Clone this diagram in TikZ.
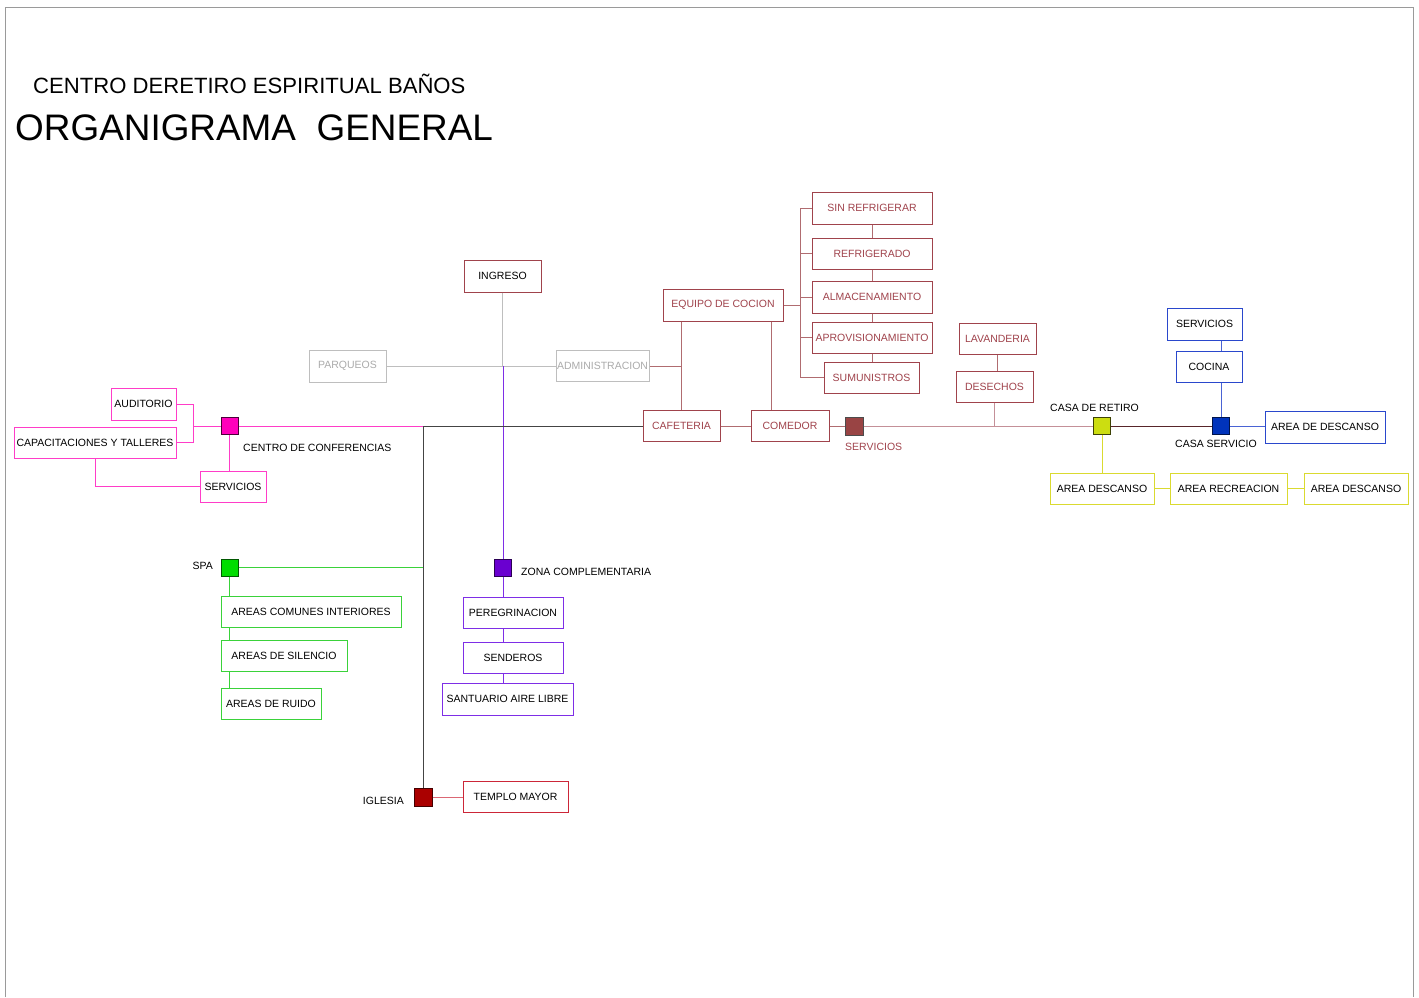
\documentclass[tikz,border=0pt]{standalone}
\usepackage{fontspec}
\setmainfont{Liberation Sans}
\definecolor{Pink}{HTML}{FF3DC8}
\definecolor{PinkHub}{HTML}{FF00BB}
\definecolor{Ash}{HTML}{BEBEBE}
\definecolor{AshText}{HTML}{ABABAB}
\definecolor{Wine}{HTML}{A0434C}
\definecolor{WineLine}{HTML}{B06C70}
\definecolor{Rose}{HTML}{C49098}
\definecolor{WineHub}{HTML}{994444}
\definecolor{Leaf}{HTML}{3AD23A}
\definecolor{LeafHub}{HTML}{00DD00}
\definecolor{Violet}{HTML}{7E2EE6}
\definecolor{VioletHub}{HTML}{6A00D0}
\definecolor{Crimson}{HTML}{CC2638}
\definecolor{CrimsonHub}{HTML}{AA0000}
\definecolor{Lime}{HTML}{DADA30}
\definecolor{LimeHub}{HTML}{CCDD11}
\definecolor{Royal}{HTML}{2A48CC}
\definecolor{RoyalHub}{HTML}{0033BB}
\definecolor{Slate}{HTML}{444444}
\definecolor{Frame}{HTML}{9A9A9A}
\begin{document}
\begin{tikzpicture}[x=1pt, y=-1pt,
  orgbox/.style={draw, line width=1pt, minimum height=31pt, inner sep=0pt,
                 fill=white, font=\fontsize{10.5}{12}\selectfont},
  hubsq/.style={draw, line width=1pt, minimum size=17pt, inner sep=0pt},
  lbl/.style={inner sep=0pt, font=\fontsize{10.5}{12}\selectfont},
  link/.style={line width=1pt}
]
  \useasboundingbox (0,0) rectangle (1419,997);
  \draw[Frame, line width=1pt] (5,997) -- (5,7) -- (1413,7) -- (1413,997);

  \node[anchor=base west, inner sep=0pt, font=\fontsize{22.1}{26}\selectfont] (sub) at (33,93) {CENTRO DERETIRO ESPIRITUAL BAÑOS};
  \node[anchor=base west, inner sep=0pt, font=\fontsize{36.9}{40}\selectfont] (title) at (15,140) {ORGANIGRAMA\ \ GENERAL};

  % centro de conferencias
  \node[orgbox, draw=Pink, minimum width=65pt, minimum height=32pt] (aud) at (143.5,404) {AUDITORIO};
  \node[orgbox, draw=Pink, minimum width=162pt] (cap) at (95,442.5) {CAPACITACIONES Y TALLERES};
  \node[orgbox, draw=Pink, minimum width=66pt] (ccserv) at (233,486.5) {SERVICIOS};
  \node[hubsq, fill=PinkHub, draw=black!70!PinkHub] (cc) at (229.5,426) {};
  \node[lbl, anchor=west] (cclbl) at (243,448) {CENTRO DE CONFERENCIAS};
  \coordinate (ccj) at (193,426);
  \coordinate (hub) at (423,426);
  \draw[link, Pink] (aud.east) -- (aud.east -| ccj) |- (cap.east);
  \draw[link, Pink] (ccj) -- (cc.west) (cc.east) -- (hub);
  \draw[link, Pink] (cc.south) -- (cc.south |- ccserv.north);
  \draw[link, Pink] (cap.south) |- (ccserv.west);

  % spa
  \node[hubsq, fill=LeafHub, draw=black!60!LeafHub] (spa) at (229.5,567.5) {};
  \node[lbl, anchor=east] (spalbl) at (213,566) {SPA};
  \node[orgbox, draw=Leaf, minimum width=180pt] (aci) at (311,611.5) {AREAS COMUNES INTERIORES};
  \node[orgbox, draw=Leaf, minimum width=126pt] (ads) at (284,655.5) {AREAS DE SILENCIO};
  \node[orgbox, draw=Leaf, minimum width=100pt] (adr) at (271,703.5) {AREAS DE RUIDO};
  \draw[link, Leaf] (spa.east) -- (spa.east -| hub);
  \draw[link, Leaf] (spa.south) -- (spa.south |- aci.north);
  \draw[link, Leaf] (aci.south -| spa) -- (ads.north -| spa);
  \draw[link, Leaf] (ads.south -| spa) -- (adr.north -| spa);

  % ingreso
  \node[orgbox, draw=Wine, minimum width=77pt, minimum height=32pt] (ing) at (502.5,276) {INGRESO};
  \node[orgbox, draw=Ash, text=AshText, minimum width=77pt, minimum height=32pt] (par) at (347.5,366) {PARQUEOS};
  \node[orgbox, draw=Ash, text=AshText, minimum width=93pt] (adm) at (602.5,366) {ADMINISTRACION};
  \draw[link, Ash] (ing.south) -- (ing.south |- par.east);
  \draw[link, Ash] (par.east) -- (adm.west);

  % zona complementaria
  \node[hubsq, fill=VioletHub, draw=black!60!VioletHub] (zc) at (503,567.5) {};
  \node[lbl, anchor=west] (zclbl) at (521,572) {ZONA COMPLEMENTARIA};
  \node[orgbox, draw=Violet, minimum width=100pt] (per) at (513,612.5) {PEREGRINACION};
  \node[orgbox, draw=Violet, minimum width=100pt] (sen) at (513,657.5) {SENDEROS};
  \node[orgbox, draw=Violet, minimum width=131pt, minimum height=32pt] (san) at (507.5,699) {SANTUARIO AIRE LIBRE};
  \draw[link, Violet] (zc |- par.east) -- (zc.north);
  \draw[link, Violet] (zc.south) -- (zc.south |- per.north);
  \draw[link, Violet] (per.south -| zc) -- (sen.north -| zc);
  \draw[link, Violet] (sen.south -| zc) -- (san.north -| zc);

  % iglesia
  \node[hubsq, minimum size=18pt, fill=CrimsonHub, draw=black!60!CrimsonHub] (igl) at (423,797) {};
  \node[lbl, anchor=east] (igllbl) at (404,801) {IGLESIA};
  \node[orgbox, draw=Crimson, minimum width=105pt] (tem) at (515.5,797) {TEMPLO MAYOR};
  \draw[link, Crimson!70] (igl.east) -- (tem.west);

  % servicios
  \node[orgbox, draw=Wine, text=Wine, minimum width=120pt, minimum height=32pt] (eqp) at (723,305) {EQUIPO DE COCION};
  \node[orgbox, draw=Wine, text=Wine, minimum width=77pt] (caf) at (681.5,426) {CAFETERIA};
  \node[orgbox, draw=Wine, text=Wine, minimum width=78pt] (com) at (790,426) {COMEDOR};
  \node[hubsq, minimum size=18pt, fill=WineHub, draw=black!70] (srv) at (854,426) {};
  \node[lbl, anchor=west, text=Wine] (srvlbl) at (845,447) {SERVICIOS};
  \node[orgbox, draw=Wine, text=Wine, minimum width=120pt, minimum height=32pt] (sinr) at (872,208) {SIN REFRIGERAR};
  \node[orgbox, draw=Wine, text=Wine, minimum width=120pt] (ref) at (872,253.5) {REFRIGERADO};
  \node[orgbox, draw=Wine, text=Wine, minimum width=120pt, minimum height=32pt] (alm) at (872,297) {ALMACENAMIENTO};
  \node[orgbox, draw=Wine, text=Wine, minimum width=120pt] (apr) at (872,337.5) {APROVISIONAMIENTO};
  \node[orgbox, draw=Wine, text=Wine, minimum width=95pt] (sum) at (871.5,377.5) {SUMUNISTROS};
  \node[orgbox, draw=Wine, text=Wine, minimum width=77pt] (lav) at (997.5,338.5) {LAVANDERIA};
  \node[orgbox, draw=Wine, text=Wine, minimum width=77pt] (des) at (994.5,386.5) {DESECHOS};
  \coordinate (stk) at (800,208);
  \draw[link, Slate] (hub) -- (igl.north);
  \draw[link, Slate] (hub) -- (caf.west);
  \draw[link, WineLine] (adm.east) -- (adm.east -| caf);
  \draw[link, WineLine] (eqp.south -| caf) -- (caf.north);
  \draw[link, WineLine] ([xshift=-19pt]com.north) -- ([xshift=-19pt]com.north |- eqp.south);
  \draw[link, WineLine] (caf.east) -- (com.west) (com.east) -- (srv.west);
  \draw[link, WineLine] (eqp.east) -- (eqp.east -| stk);
  \draw[link, WineLine] (sinr.west) -- (stk) |- (sum.west);
  \foreach \n in {ref,alm,apr}
    \draw[link, WineLine] (\n.west -| stk) -- (\n.west);
  \foreach \a/\b in {sinr/ref,ref/alm,alm/apr,apr/sum}
    \draw[link, WineLine] (\a.south -| sinr) -- (\b.north -| sinr);
  \draw[link, WineLine] (lav.south) -- (lav.south |- des.north);
  \draw[link, Rose] (des.south) -- (des.south |- srv.east);

  % casa de retiro
  \node[hubsq, fill=LimeHub, draw=black!70!LimeHub] (cdr) at (1102,426) {};
  \node[lbl, anchor=west] (cdrlbl) at (1050,408) {CASA DE RETIRO};
  \node[hubsq, fill=RoyalHub, draw=black!60!RoyalHub] (cs) at (1221,426) {};
  \node[lbl, anchor=west] (cslbl) at (1175,444) {CASA SERVICIO};
  \node[orgbox, draw=Royal, minimum width=75pt, minimum height=32pt] (csserv) at (1204.5,324) {SERVICIOS};
  \node[orgbox, draw=Royal, minimum width=66pt] (coc) at (1209,366.5) {COCINA};
  \node[orgbox, draw=Royal, minimum width=120pt, minimum height=32pt] (add) at (1325,427) {AREA DE DESCANSO};
  \node[orgbox, draw=Lime, minimum width=104pt] (ade1) at (1102,488.5) {AREA DESCANSO};
  \node[orgbox, draw=Lime, minimum width=117pt] (arec) at (1228.5,488.5) {AREA RECREACION};
  \node[orgbox, draw=Lime, minimum width=104pt] (ade2) at (1356,488.5) {AREA DESCANSO};
  \draw[link, Rose] (srv.east) -- (cdr.west);
  \draw[link, black!45!Wine] (cdr.east) -- (cs.west);
  \draw[link, Lime] (cdr.south) -- (ade1.north);
  \draw[link, Lime] (ade1.east) -- (arec.west);
  \draw[link, Lime] (arec.east) -- (ade2.west);
  \draw[link, Royal!85] (csserv.south -| cs) -- (coc.north -| cs);
  \draw[link, Royal!85] (coc.south -| cs) -- (cs.north);
  \draw[link, Royal!85] (cs.east) -- (cs.east -| add.west);
\end{tikzpicture}
\end{document}
